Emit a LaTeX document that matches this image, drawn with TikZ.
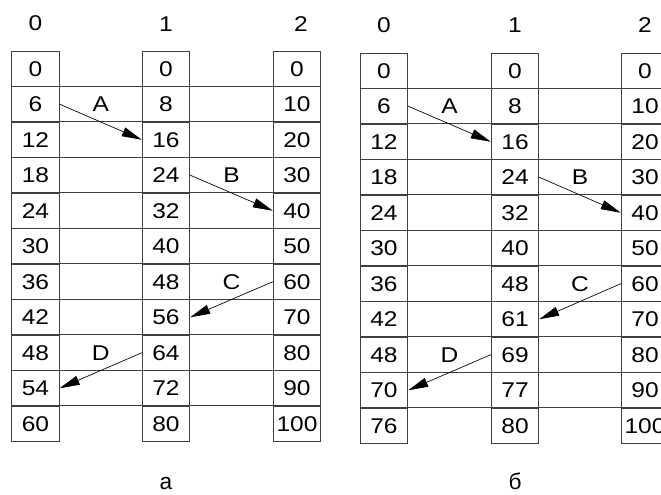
\documentclass[tikz,border=0pt]{standalone}
\usepackage{fontspec}
\setmainfont{Liberation Sans}
\newfontfamily\cellfont{Liberation Sans}[FakeStretch=1.15]
\usetikzlibrary{calc, arrows.meta, positioning}
\definecolor{GridGray}{HTML}{404040}

\begin{document}
\begin{tikzpicture}[
    x=0.75pt, y=0.75pt,
    >={Triangle[length=15pt, width=7pt]},
    % Table Styles
    cell/.style={draw=GridGray, line width=0.75pt, minimum width=35.6pt, minimum height=26.6pt,
        inner sep=0pt, font=\cellfont\fontsize{16}{16}\selectfont},
    gridline/.style={GridGray, line width=0.75pt},
    head/.style={inner sep=0pt, font=\cellfont\fontsize{16}{16}\selectfont},
    % Arrow Styles
    tag/.style={inner sep=0pt, font=\cellfont\fontsize{16}{16}\selectfont},
    link/.style={->, black, line width=0.5pt},
    caption/.style={inner sep=0pt, font=\fontsize{17}{17}\selectfont}
]
    \useasboundingbox (0,0) rectangle (661,495);

    % ==========================================
    % PANEL a
    % ==========================================
    \begin{scope}[shift={(0,0)}]
        \foreach \r/\p/\q/\s in {0/0/0/0, 1/6/8/10, 2/12/16/20, 3/18/24/30, 4/24/32/40,
            5/30/40/50, 6/36/48/60, 7/42/56/70, 8/48/64/80, 9/54/72/90, 10/60/80/100} {
            \node[cell] (a0-\r) at (35.5, {444-35.5*(\r+0.5)}) {\p};
            \node[cell] (a1-\r) at (166, {444-35.5*(\r+0.5)}) {\q};
            \node[cell] (a2-\r) at (297, {444-35.5*(\r+0.5)}) {\s};
        }
        \foreach \r in {1,...,10}
            \draw[gridline] (a0-\r.north west) -- (a2-\r.north east);

        \node[head, above=14.3pt of a0-0] (ah0) {0};
        \node[head, above=14.3pt of a1-0] (ah1) {1};
        \node[head, above=14.3pt of a2-0, xshift=3pt] (ah2) {2};

        \node[tag] (aA) at ($(a0-1)!0.5!(a1-1)$) {A};
        \node[tag] (aB) at ($(a1-3)!0.5!(a2-3)$) {B};
        \node[tag] (aC) at ($(a1-6)!0.5!(a2-6)$) {C};
        \node[tag] (aD) at ($(a0-8)!0.5!(a1-8)$) {D};

        \draw[link] (a0-1.east) -- (a1-2.west);
        \draw[link] (a1-3.east) -- (a2-4.west);
        \draw[link] (a2-6.west) -- (a1-7.east);
        \draw[link] (a1-8.west) -- (a0-9.east);

        \node[caption, below=35.6pt of a1-10, anchor=base] (acap) {а};
    \end{scope}

    % ==========================================
    % PANEL b
    % ==========================================
    \begin{scope}[shift={(348,-2)}]
        \foreach \r/\p/\q/\s in {0/0/0/0, 1/6/8/10, 2/12/16/20, 3/18/24/30, 4/24/32/40,
            5/30/40/50, 6/36/48/60, 7/42/61/70, 8/48/69/80, 9/70/77/90, 10/76/80/100} {
            \node[cell] (b0-\r) at (36, {444-35.5*(\r+0.5)}) {\p};
            \node[cell] (b1-\r) at (167, {444-35.5*(\r+0.5)}) {\q};
            \node[cell] (b2-\r) at (297, {444-35.5*(\r+0.5)}) {\s};
        }
        \foreach \r in {1,...,10}
            \draw[gridline] (b0-\r.north west) -- (b2-\r.north east);

        \node[head, above=15pt of b0-0] (bh0) {0};
        \node[head, above=15pt of b1-0] (bh1) {1};
        \node[head, above=15pt of b2-0] (bh2) {2};

        \node[tag] (bA) at ($(b0-1)!0.5!(b1-1)$) {A};
        \node[tag] (bB) at ($(b1-3)!0.5!(b2-3)$) {B};
        \node[tag] (bC) at ($(b1-6)!0.5!(b2-6)$) {C};
        \node[tag] (bD) at ($(b0-8)!0.5!(b1-8)$) {D};

        \draw[link] (b0-1.east) -- (b1-2.west);
        \draw[link] (b1-3.east) -- (b2-4.west);
        \draw[link] (b2-6.west) -- (b1-7.east);
        \draw[link] (b1-8.west) -- (b0-9.east);

        \node[caption, below=34.1pt of b1-10, anchor=base] (bcap) {б};
    \end{scope}

\end{tikzpicture}
\end{document}
